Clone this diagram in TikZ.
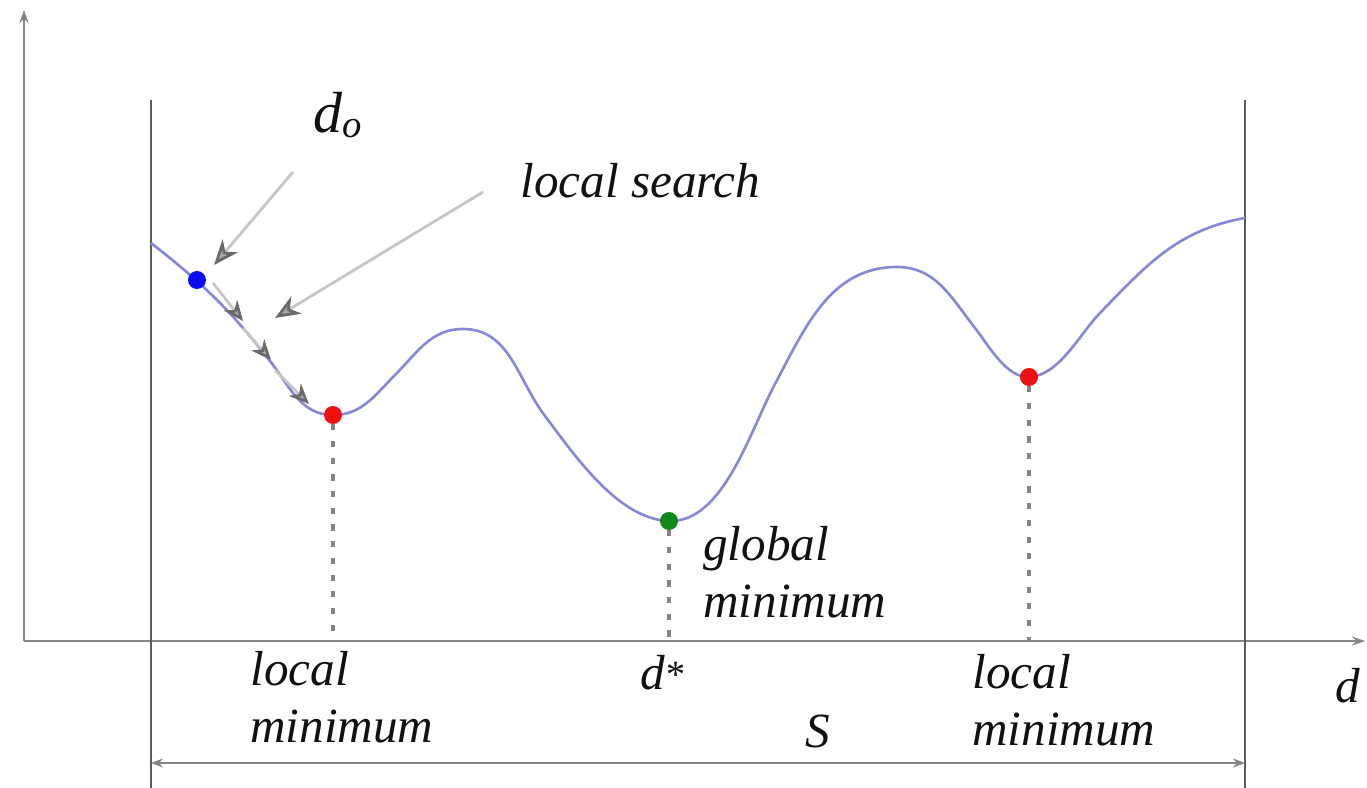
\documentclass[tikz,border=0pt]{standalone}
\usepackage{fontspec}
\setmainfont{Liberation Serif}
\usepackage{tikz}
\usetikzlibrary{arrows.meta}
\definecolor{ink}{HTML}{111111}
\definecolor{axisgray}{HTML}{858585}
\definecolor{wallgray}{HTML}{5C5C5C}
\definecolor{curveblue}{HTML}{8888D8}
\definecolor{hintgray}{HTML}{C6C6C6}
\definecolor{tipgray}{HTML}{6A6A6A}
\definecolor{dropgray}{HTML}{858585}
\definecolor{startblue}{HTML}{0C0CF2}
\definecolor{minred}{HTML}{EE1111}
\definecolor{mingreen}{HTML}{13881A}
\tikzset{
  every node/.style={font=\itshape\fontsize{28}{33}\selectfont,text=ink,inner sep=0pt},
  big/.style={font=\itshape\fontsize{33}{36}\selectfont},
  axis/.style={-{Stealth[length=2.6mm,width=1.8mm,fill=black!75]},line width=1.6pt,draw=axisgray},
  wall/.style={line width=1.1pt,draw=wallgray},
  span/.style={{Stealth[length=2.4mm,width=1.8mm,fill=black!75]}-{Stealth[length=2.4mm,width=1.8mm,fill=black!75]},line width=1.4pt,draw=axisgray},
  cost/.style={line width=1.5pt,draw=curveblue},
  hint/.style={-{Stealth[length=5mm,width=4mm,inset=1.5mm,fill=hintgray!70!tipgray,color=tipgray]},line width=1.6pt,draw=hintgray},
  stepto/.style={-{Stealth[length=4mm,width=3.4mm,inset=1.2mm,fill=hintgray!70!tipgray,color=tipgray]},line width=1.5pt,draw=hintgray},
  drop/.style={line width=1.9pt,draw=dropgray,dash pattern=on 3.5pt off 6pt},
  spot/.style={circle,minimum size=3.6mm,inner sep=0pt},
}

\begin{document}
\begin{tikzpicture}[x=0.02cm,y=0.02cm]
\path[use as bounding box] (0,0) rectangle (1367,788);
\fill[white] (0,0) rectangle (1367,788);
% axes and the search interval S
\coordinate (O) at (24,147);
\coordinate (ytop) at (24,778);
\coordinate (xend) at (1365,147);
\draw[axis] (O) -- (ytop);
\draw[axis] (O) -- (xend);
\coordinate (lwall top) at (151,688);
\coordinate (lwall bot) at (151,0);
\coordinate (rwall top) at (1245,688);
\coordinate (rwall bot) at (1245,0);
\draw[wall] (lwall top) -- (lwall bot);
\draw[wall] (rwall top) -- (rwall bot);
\draw[span] (151,25) coordinate (sL) -- (1245,25) coordinate (sR);
% cost curve: extrema and turning points
\coordinate (c0) at (151,545);
\coordinate (p1) at (270,427);
\coordinate (m1) at (333,373);
\coordinate (p2) at (395,413);
\coordinate (x1) at (463,459);
\coordinate (p3) at (545,372);
\coordinate (m2) at (669,267);
\coordinate (p4) at (775,404);
\coordinate (x2) at (897,521);
\coordinate (p5) at (975,460);
\coordinate (m3) at (1029,411);
\coordinate (p6) at (1100,475);
\coordinate (c1) at (1245,570);
\draw[cost] (c0) to[out=-38,in=128] (p1) to[out=-52,in=180] (m1)
  to[out=0,in=225] (p2) to[out=45,in=180] (x1)
  to[out=0,in=127] (p3) to[out=-53,in=178,looseness=0.8] (m2)
  to[out=-2,in=242,looseness=0.8] (p4) to[out=62,in=180] (x2)
  to[out=0,in=128] (p5) to[out=-52,in=182,looseness=0.8] (m3)
  to[out=2,in=226,looseness=0.8] (p6) to[out=46,in=190] (c1);
% minima and drop lines
\node[spot,fill=startblue] (start) at (197,508) {};
\node[spot,fill=minred] (lmin1) at (m1) {};
\node[spot,fill=mingreen] (gmin) at (m2) {};
\node[spot,fill=minred] (lmin2) at (m3) {};
\draw[drop] (lmin1.south) -- (lmin1 |- O);
\draw[drop] (gmin.south) -- (gmin |- O);
\draw[drop] (lmin2.south) -- (lmin2 |- O);
% pointers and search steps
\coordinate (d0 tail) at (293,616);
\coordinate (d0 head) at (214,523);
\coordinate (ls tail) at (483,596);
\coordinate (ls head) at (275,470);
\draw[hint] (d0 tail) -- (d0 head);
\draw[hint] (ls tail) -- (ls head);
\coordinate (s1) at (213,505);
\coordinate (s1e) at (243,467);
\coordinate (s2) at (243,460);
\coordinate (s2e) at (271,428);
\coordinate (s3) at (275,418);
\coordinate (s3e) at (309,384);
\draw[stepto] (s1) -- (s1e);
\draw[stepto] (s2) -- (s2e);
\draw[stepto] (s3) -- (s3e);
% labels
\node[big,anchor=base west] (d0lab) at (313,655) {d\raisebox{-0.08em}{\fontsize{22}{22}\selectfont o}};
\node[anchor=base west] (lslab) at (520,590) {local search};
\node[anchor=base west,align=left] (lmin1lab) at (250,45) {local\\minimum};
\node[anchor=base west,align=left] (gminlab) at (703,170) {global\\minimum};
\node[anchor=base west,align=left] (lmin2lab) at (972,42) {local\\minimum};
\node[anchor=base west] (dstar) at (640,98) {d\raisebox{0.05em}{\fontsize{22}{22}\selectfont *}};
\node[anchor=base west] (dlab) at (1335,85) {d};
\node[anchor=base west] (slab) at (805,40) {S};
\end{tikzpicture}
\end{document}
